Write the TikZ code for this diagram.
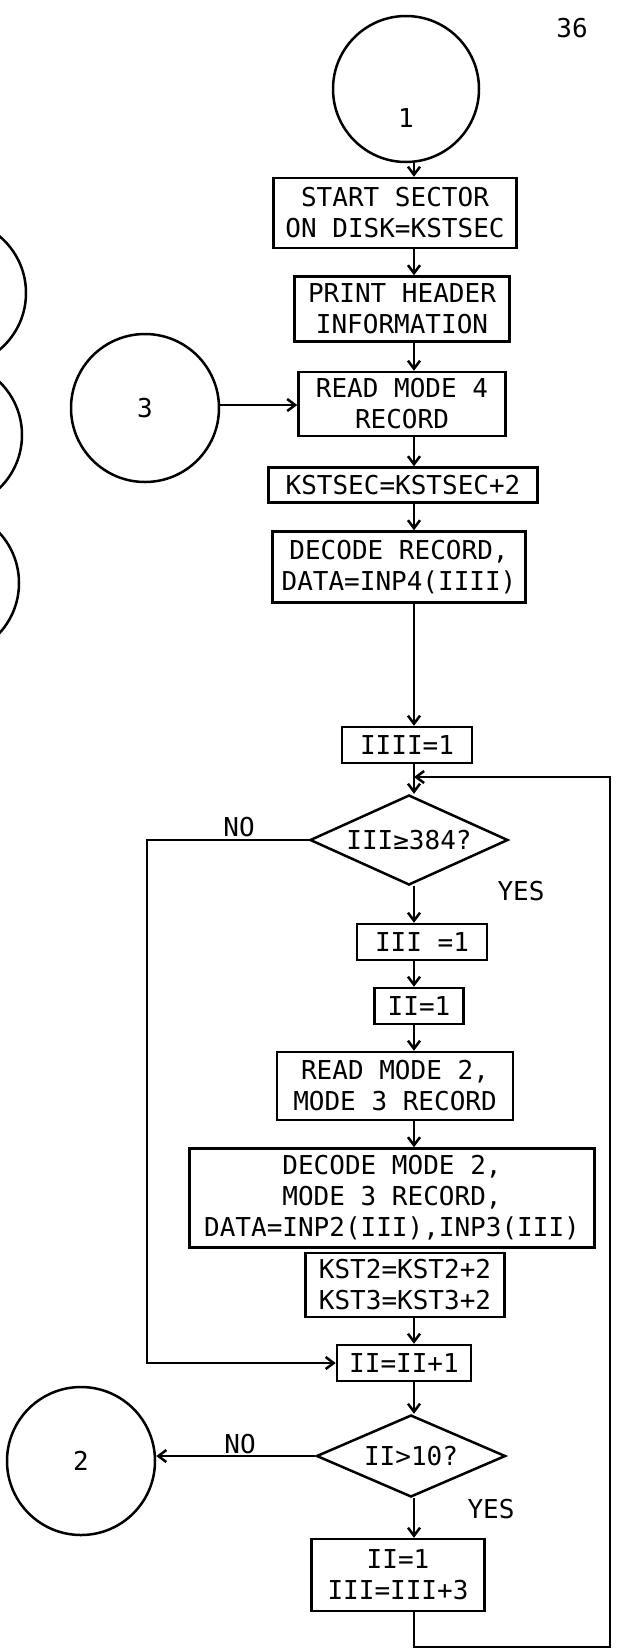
\documentclass[tikz,border=0pt]{standalone}
\usepackage{fontspec}
\setmonofont{DejaVu Sans Mono}
\usetikzlibrary{arrows.meta,shapes.geometric,calc}
\newcommand{\chartfont}{\fontsize{26}{31}\selectfont\ttfamily}

\begin{document}
\begin{tikzpicture}[x=1pt,y=-1pt,line width=2.5pt,
  arr/.style={-{Straight Barb[length=8pt,width=12pt]}},
  procbox/.style={draw,rectangle,align=center,inner sep=0pt,font=\chartfont},
  decision/.style={draw,diamond,aspect=2.1,inner sep=0pt,font=\chartfont},
  connector/.style={draw,circle,inner sep=0pt,minimum size=148pt,font=\chartfont},
  answer/.style={font=\chartfont}]
  \useasboundingbox (0,0) rectangle (617,1650);
  \coordinate (spine) at (414,0);
  \coordinate (nocol) at (147,0);
  \coordinate (bot) at (414,1647);
  \coordinate (rgt) at (610,777);

  \node[answer] (pagenum) at (572,28) {36};

  % connectors
  \node[connector,minimum size=146pt] (c1) at (406,89) {};
  \node[answer] (c1txt) at ([yshift=-29pt]c1.center) {1};
  \node[connector] (c3) at (145,408) {3};
  \node[connector] (c2) at (81,1461) {2};
  \node[connector] (l1) at (-48,293) {};
  \node[connector] (l2) at (-52,435) {};
  \node[connector] (l3) at (-55,583) {};

  % main column
  \node[procbox,minimum width=243pt,minimum height=70pt] (b1) at (395,213) {START SECTOR\\ON DISK=KSTSEC};
  \node[procbox,minimum width=215pt,minimum height=65pt] (b2) at (402,309) {PRINT HEADER\\INFORMATION};
  \node[procbox,minimum width=207pt,minimum height=64pt] (b3) at (402,404) {READ MODE 4\\RECORD};
  \node[procbox,minimum width=269pt,minimum height=35pt] (b4) at (403,485) {KSTSEC=KSTSEC+2};
  \node[procbox,minimum width=253pt,minimum height=71pt] (b5) at (399,567) {DECODE RECORD,\\DATA=INP4(IIII)};
  \node[procbox,minimum width=130pt,minimum height=36pt] (b6) at (407,745) {IIII=1};
  \node[decision,minimum width=198pt,minimum height=90pt] (d1) at (409,840) {III≥384?};
  \node[procbox,minimum width=130pt,minimum height=36pt] (b8) at (422,942) {III =1};
  \node[procbox,minimum width=89pt,minimum height=36pt] (b9) at (419,1006) {II=1};
  \node[procbox,minimum width=236pt,minimum height=68pt] (b10) at (395,1086) {READ MODE 2,\\MODE 3 RECORD};
  \node[procbox,minimum width=405pt,minimum height=99pt] (b11) at (392,1198) {DECODE MODE 2,\\MODE 3 RECORD,\\DATA=INP2(III),INP3(III)};
  \node[procbox,minimum width=199pt,minimum height=64pt] (b12) at (405,1285) {KST2=KST2+2\\KST3=KST3+2};
  \node[procbox,minimum width=134pt,minimum height=36pt] (b13) at (404,1363) {II=II+1};
  \node[decision,minimum width=189pt,minimum height=82pt] (d2) at (411,1456) {II>10?};
  \node[procbox,minimum width=173pt,minimum height=72pt] (b15) at (398,1575) {II=1\\III=III+3};

  \node[answer] (no1) at (239,827) {NO};
  \node[answer] (yes1) at (521,891) {YES};
  \node[answer] (no2) at (240,1444) {NO};
  \node[answer] (yes2) at (491,1509) {YES};

  % flow
  \draw[arr] (c1.south -| spine) -- (b1.north -| spine);
  \draw[arr] (b1.south -| spine) -- (b2.north -| spine);
  \draw[arr] (b2.south -| spine) -- (b3.north -| spine);
  \draw[arr] (c3.east |- 0,405) -- (b3.west |- 0,405);
  \draw[arr] (b3.south -| spine) -- (b4.north -| spine);
  \draw[arr] (b4.south -| spine) -- (b5.north -| spine);
  \draw[arr] (b5.south -| spine) -- (b6.north -| spine);
  \draw[arr] (b6.south -| spine) -- (d1.north -| spine);
  \draw[arr] (d1.south -| spine) -- (b8.north -| spine);
  \draw[arr] (b8.south -| spine) -- (b9.north -| spine);
  \draw[arr] (b9.south -| spine) -- (b10.north -| spine);
  \draw[arr] (b10.south -| spine) -- (b11.north -| spine);
  \draw[arr] (b12.south -| spine) -- (b13.north -| spine);
  \draw[arr] (d1.west) -| (nocol |- b13.west) -- (b13.west);
  \draw[arr] (b13.south -| spine) -- (d2.north -| spine);
  \draw[arr] (d2.west) -- (d2.west -| c2.east);
  \draw[arr] (d2.south -| spine) -- (b15.north -| spine);
  \draw[arr] (b15.south -| spine) -- (bot) -| (rgt) -- (rgt -| spine);
\end{tikzpicture}
\end{document}
